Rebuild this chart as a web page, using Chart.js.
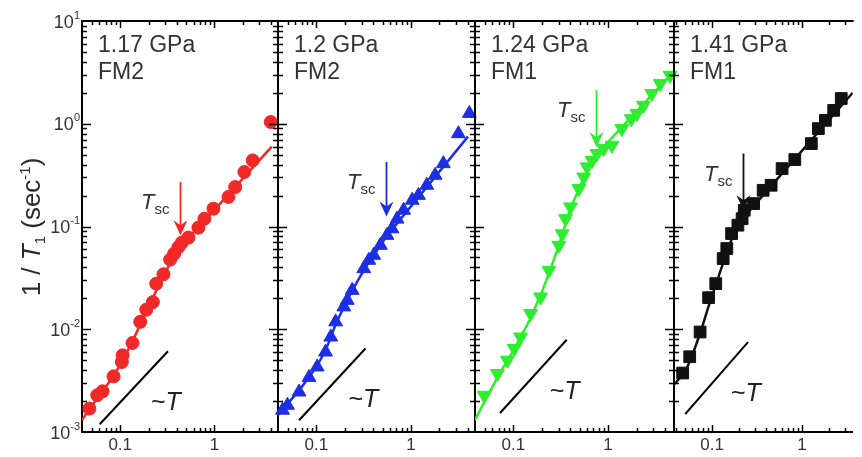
<!DOCTYPE html>
<html>
<head>
<meta charset="utf-8">
<script src="https://cdn.jsdelivr.net/npm/chart.js@4.4.1/dist/chart.umd.min.js"></script>
<style>
  html, body { margin: 0; padding: 0; background: #fff; }
  #wrap { position: relative; width: 862px; height: 457px; overflow: hidden; }
  #wrap canvas { position: absolute; left: 0; top: 0; }
</style>
</head>
<body>
<div id="wrap">
  <canvas id="p117" width="862" height="457"></canvas>
  <canvas id="p120" width="862" height="457"></canvas>
  <canvas id="p124" width="862" height="457"></canvas>
  <canvas id="p141" width="862" height="457"></canvas>
</div>
<script>
// Tick values and labels
const xMajorTicks = [0.1, 1]
const xTickLabels = ["0.1", "1"]
const xMinorTicks = [0.04, 0.05, 0.06, 0.07, 0.08, 0.09, 0.2, 0.3, 0.4, 0.5, 0.6, 0.7, 0.8, 0.9, 2, 3, 4, 5]
const yMajorTicks = [0.001, 0.01, 0.1, 1, 10]
const yMinorSteps = [2, 3, 4, 5, 6, 7, 8, 9]

// Panel headings
const pressures = ["1.17 GPa", "1.2 GPa", "1.24 GPa", "1.41 GPa"]
const phases = ["FM2", "FM2", "FM1", "FM1"]

// 1.17 GPa (FM2) - 1/T1 vs T
const t117 = [0.047, 0.057, 0.065, 0.085, 0.104, 0.106, 0.135, 0.163, 0.189, 0.222, 0.241, 0.288, 0.339, 0.374, 0.415, 0.451, 0.53, 0.676, 0.783, 0.976, 1.41, 1.66, 2.08, 2.55, 3.96]
const r117 = [0.00169, 0.00228, 0.00249, 0.00348, 0.0048, 0.00557, 0.00735, 0.0118, 0.0155, 0.0184, 0.0278, 0.0343, 0.0477, 0.0545, 0.063, 0.0697, 0.078, 0.0975, 0.119, 0.149, 0.194, 0.242, 0.339, 0.44, 1.04]
const fitT117 = [0.039, 0.05, 0.065, 0.085, 0.11, 0.14, 0.18, 0.22, 0.27, 0.33, 0.43, 1.0, 4.06]
const fitR117 = [0.0013, 0.0018, 0.0025, 0.0035, 0.0053, 0.0082, 0.0135, 0.02, 0.029, 0.042, 0.063, 0.145, 0.6]

// 1.2 GPa (FM2)
const t120 = [0.0439, 0.0495, 0.0656, 0.0836, 0.102, 0.125, 0.142, 0.16, 0.195, 0.212, 0.239, 0.317, 0.358, 0.404, 0.475, 0.558, 0.63, 0.712, 0.836, 1.03, 1.2, 1.47, 1.8, 2.2, 3.17, 4.14]
const r120 = [0.00163, 0.00182, 0.00245, 0.0034, 0.0043, 0.006, 0.0084, 0.0118, 0.0165, 0.0191, 0.0239, 0.0389, 0.0469, 0.0525, 0.0656, 0.082, 0.095, 0.118, 0.144, 0.18, 0.201, 0.252, 0.315, 0.409, 0.8, 1.26]
const fitT120 = [0.039, 0.05, 0.065, 0.085, 0.1, 0.125, 0.16, 0.2, 0.24, 0.32, 0.4, 0.55, 4.0]
const fitR120 = [0.00145, 0.0019, 0.0025, 0.0035, 0.0043, 0.0062, 0.0112, 0.0172, 0.024, 0.038, 0.052, 0.08, 0.75]

// 1.24 GPa (FM1)
const t124 = [0.0491, 0.0679, 0.0865, 0.102, 0.119, 0.152, 0.194, 0.237, 0.302, 0.328, 0.356, 0.401, 0.491, 0.554, 0.601, 0.679, 0.765, 0.9, 1.1, 1.4, 1.76, 2.02, 2.37, 2.9, 3.56, 4.53]
const r124 = [0.00228, 0.0037, 0.005, 0.0065, 0.0084, 0.0142, 0.0206, 0.0375, 0.0656, 0.085, 0.119, 0.155, 0.234, 0.303, 0.38, 0.44, 0.513, 0.573, 0.617, 0.897, 1.12, 1.26, 1.51, 1.97, 2.46, 2.96]
const fitT124 = [0.039, 0.05, 0.07, 0.1, 0.15, 0.2, 0.25, 0.3, 0.4, 0.5, 0.6, 0.75, 4.72]
const fitR124 = [0.0013, 0.002, 0.0036, 0.0062, 0.0125, 0.023, 0.04, 0.064, 0.15, 0.24, 0.35, 0.5, 3.08]

// 1.41 GPa (FM1)
const t141 = [0.0472, 0.0565, 0.0737, 0.0916, 0.11, 0.133, 0.146, 0.165, 0.194, 0.216, 0.228, 0.29, 0.37, 0.454, 0.601, 0.832, 1.27, 1.52, 1.82, 2.25, 2.73]
const r141 = [0.00375, 0.0054, 0.0094, 0.0203, 0.0278, 0.0487, 0.061, 0.0853, 0.103, 0.119, 0.144, 0.167, 0.225, 0.252, 0.366, 0.448, 0.641, 0.897, 1.08, 1.35, 1.76]
const fitT141 = [0.0378, 0.05, 0.06, 0.075, 0.09, 0.11, 0.135, 0.165, 0.2, 0.22, 3.66]
const fitR141 = [0.0029, 0.0038, 0.0055, 0.0095, 0.016, 0.027, 0.046, 0.075, 0.105, 0.12, 2.0]

// "~T" guide lines (two ends each)
const refT117 = [0.0606, 0.321]
const refR117 = [0.00119, 0.0061]
const refT120 = [0.0656, 0.33]
const refR120 = [0.0013, 0.0065]
const refT124 = [0.0723, 0.366]
const refR124 = [0.00153, 0.0079]
const refT141 = [0.0503, 0.251]
const refR141 = [0.00149, 0.0075]

// Tsc arrows: temperature, arrow top, arrow tip
const tscT = [0.433, 0.55, 0.753, 0.222]
const tscFrom = [0.27, 0.425, 2.12, 0.513]
const tscTo = [0.082, 0.125, 0.594, 0.144]

const FONT = '"Liberation Sans", Arial, sans-serif'
const TEXT = "#333"

const panels = [
  { canvas: "p117", left: 82, right: 278, xMin: 0.0393, xMax: 4.73, color: "#f02828", marker: "circle", rotation: 0, radius: 6.5,
    t: t117, rate: r117, fitT: fitT117, fitRate: fitR117, refT: refT117, refRate: refR117, closed: true },
  { canvas: "p120", left: 278, right: 475, xMin: 0.0393, xMax: 4.75, color: "#1c2fe4", marker: "triangle", rotation: 0, radius: 8,
    t: t120, rate: r120, fitT: fitT120, fitRate: fitR120, refT: refT120, refRate: refR120, closed: true },
  { canvas: "p124", left: 475, right: 674, xMin: 0.0393, xMax: 4.98, color: "#2cee2c", marker: "triangle", rotation: 180, radius: 8,
    t: t124, rate: r124, fitT: fitT124, fitRate: fitR124, refT: refT124, refRate: refR124, closed: true },
  { canvas: "p141", left: 674, right: 862, xMin: 0.0378, xMax: 3.66, color: "#111111", marker: "rect", rotation: 0, radius: 8.3,
    t: t141, rate: r141, fitT: fitT141, fitRate: fitR141, refT: refT141, refRate: refR141, closed: false },
]

function zip(xs, ys) {
  return xs.map((x, i) => ({ x, y: ys[i] }))
}

// draw a run of text pieces with different fonts / baseline shifts
function drawRuns(ctx, runs, x, y) {
  runs.forEach((run) => {
    ctx.font = run.font
    ctx.fillText(run.text, x, y + (run.dy || 0))
    x += ctx.measureText(run.text).width
  })
  return x
}

function runsWidth(ctx, runs) {
  return runs.reduce((w, run) => {
    ctx.font = run.font
    return w + ctx.measureText(run.text).width
  }, 0)
}

// inward tick marks, top / right frame
function drawFrame(chart, p) {
  const { ctx, chartArea: a, scales } = chart
  const x = scales.x
  const y = scales.y
  ctx.save()
  ctx.strokeStyle = "#000"
  ctx.lineWidth = 1.5
  ctx.beginPath()
  const xTicks = xMajorTicks.map((v) => [v, 7]).concat(xMinorTicks.map((v) => [v, 4]))
  xTicks.forEach(([v, len]) => {
    const px = Math.round(x.getPixelForValue(v)) + 0.5
    if (px <= a.left + 2 || px >= a.right - 2) return
    ctx.moveTo(px, a.bottom)
    ctx.lineTo(px, a.bottom - len)
    ctx.moveTo(px, a.top)
    ctx.lineTo(px, a.top + len)
  })
  const yTicks = yMajorTicks.map((v) => [v, 9])
  yMajorTicks.slice(0, -1).forEach((d) => {
    yMinorSteps.forEach((s) => yTicks.push([d * s, 5]))
  })
  yTicks.forEach(([v, len]) => {
    const py = Math.round(y.getPixelForValue(v)) + 0.5
    if (py <= a.top + 2 || py >= a.bottom - 2) return
    ctx.moveTo(a.left, py)
    ctx.lineTo(a.left + len, py)
    if (p.closed) {
      ctx.moveTo(a.right, py)
      ctx.lineTo(a.right - len, py)
    }
  })
  ctx.stroke()

  ctx.lineWidth = 2
  ctx.beginPath()
  ctx.moveTo(a.left - 1, a.top)
  ctx.lineTo(a.right + 1, a.top)
  if (p.closed) {
    ctx.moveTo(a.right, a.top - 1)
    ctx.lineTo(a.right, a.bottom + 1)
  }
  ctx.stroke()
  ctx.restore()
}

function drawAnnotations(chart, p, i) {
  const { ctx, chartArea: a, scales } = chart
  const x = scales.x
  const y = scales.y
  ctx.save()
  ctx.textBaseline = "alphabetic"
  ctx.textAlign = "left"

  // pressure / phase
  ctx.fillStyle = TEXT
  ctx.font = "23px " + FONT
  ctx.fillText(pressures[i], a.left + 16, a.top + 31)
  ctx.fillText(phases[i], a.left + 16, a.top + 58)

  // Tsc arrow
  const ax = Math.round(x.getPixelForValue(tscT[i])) + 0.5
  const ay = y.getPixelForValue(tscFrom[i])
  const tip = y.getPixelForValue(tscTo[i])
  ctx.strokeStyle = p.color
  ctx.fillStyle = p.color
  ctx.lineWidth = 1.8
  ctx.beginPath()
  ctx.moveTo(ax, ay)
  ctx.lineTo(ax, tip - 8)
  ctx.stroke()
  ctx.beginPath()
  ctx.moveTo(ax, tip)
  ctx.lineTo(ax - 7, tip - 15)
  ctx.lineTo(ax, tip - 10)
  ctx.lineTo(ax + 7, tip - 15)
  ctx.closePath()
  ctx.fill()

  // Tsc label
  const tscRuns = [
    { text: "T", font: "italic 22px " + FONT },
    { text: "sc", font: "15px " + FONT, dy: 5 },
  ]
  ctx.fillStyle = TEXT
  drawRuns(ctx, tscRuns, ax - 11 - runsWidth(ctx, tscRuns), ay + 27)

  // ~T label next to the guide line
  const ex = x.getPixelForValue(p.refT[1])
  const ey = y.getPixelForValue(p.refRate[1])
  ctx.fillStyle = "#222"
  drawRuns(ctx, [
    { text: "~", font: "25px " + FONT },
    { text: "T", font: "italic 25px " + FONT },
  ], ex - 17, ey + 59)

  // y tick labels and axis title only on the first panel
  if (i === 0) {
    ctx.fillStyle = TEXT
    yMajorTicks.forEach((v) => {
      const py = y.getPixelForValue(v)
      const exp = String(Math.round(Math.log10(v)))
      const runs = [
        { text: "10", font: "18px " + FONT },
        { text: exp, font: "11px " + FONT, dy: -9 },
      ]
      drawRuns(ctx, runs, a.left - 2 - runsWidth(ctx, runs), py + 6.5)
    })

    const titleRuns = [
      { text: "1 / ", font: "26px " + FONT },
      { text: "T", font: "italic 26px " + FONT },
      { text: "1", font: "15px " + FONT, dy: 5 },
      { text: " (sec", font: "26px " + FONT },
      { text: "-1", font: "15px " + FONT, dy: -10 },
      { text: ")", font: "26px " + FONT },
    ]
    ctx.fillStyle = "#2a2a2a"
    ctx.translate(31, 227)
    ctx.rotate(-Math.PI / 2)
    drawRuns(ctx, titleRuns, -runsWidth(ctx, titleRuns) / 2, 9)
  }
  ctx.restore()
}

panels.forEach((p, i) => {
  const ctx = document.getElementById(p.canvas).getContext("2d")
  new Chart(ctx, {
    type: "scatter",
    data: {
      datasets: [
        {
          data: zip(p.t, p.rate),
          pointStyle: p.marker,
          pointRotation: p.rotation,
          pointRadius: p.radius,
          pointBackgroundColor: p.color,
          pointBorderColor: p.color,
          pointBorderWidth: 1,
          showLine: false,
          clip: false,
        },
        {
          data: zip(p.fitT, p.fitRate),
          showLine: true,
          borderColor: p.color,
          borderWidth: 2.5,
          pointRadius: 0,
        },
        {
          data: zip(p.refT, p.refRate),
          showLine: true,
          borderColor: "#000",
          borderWidth: 2,
          pointRadius: 0,
        },
      ],
    },
    options: {
      responsive: false,
      devicePixelRatio: 1,
      animation: false,
      events: [],
      layout: {
        padding: { left: p.left, right: 862 - p.right, top: 21, bottom: 0 },
      },
      scales: {
        x: {
          type: "logarithmic",
          position: "bottom",
          bounds: "data",
          min: p.xMin,
          max: p.xMax,
          afterBuildTicks: (scale) => {
            scale.ticks = xMajorTicks.map((v) => ({ value: v }))
          },
          afterFit: (scale) => {
            scale.height = 25
          },
          grid: { display: false, drawTicks: false },
          border: { display: true, color: "#000", width: 2 },
          ticks: {
            autoSkip: false,
            maxRotation: 0,
            padding: 3,
            color: TEXT,
            font: { family: FONT, size: 17 },
            callback: (v) => xTickLabels[xMajorTicks.indexOf(v)],
          },
        },
        y: {
          type: "logarithmic",
          position: "left",
          bounds: "data",
          min: 0.001,
          max: 10,
          afterFit: (scale) => {
            scale.width = 0
          },
          grid: { display: false, drawTicks: false },
          border: { display: true, color: "#000", width: 2 },
          ticks: { display: false },
        },
      },
      plugins: {
        legend: { display: false },
        tooltip: { enabled: false },
      },
    },
    plugins: [
      {
        id: "panelDecor",
        afterDraw: (chart) => {
          drawFrame(chart, p)
          drawAnnotations(chart, p, i)
        },
      },
    ],
  })
})
</script>
</body>
</html>
